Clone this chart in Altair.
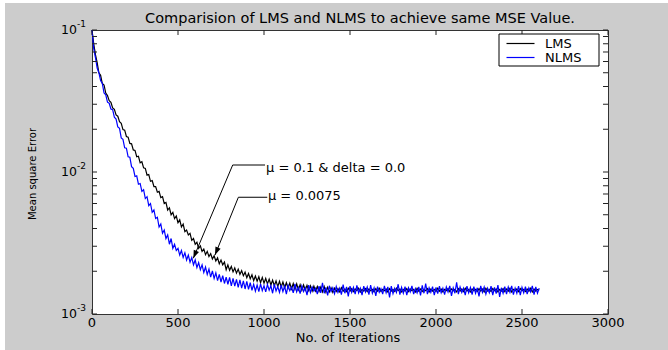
import altair as alt
import pandas as pd

# ---------------- data ----------------
iterations = list(range(0, 2601, 10))

lms_mse = [
    0.100, 0.080, 0.067, 0.059, 0.050, 0.048, 0.042, 0.041, 0.036, 0.0345,
    0.0318, 0.0310, 0.0283, 0.0276, 0.0252, 0.0247, 0.0226, 0.0220, 0.0199, 0.0197,
    0.0178, 0.0176, 0.0159, 0.0158, 0.0143, 0.0142, 0.0128, 0.0129, 0.0116, 0.0118,
    0.0107, 0.0106, 0.0095, 0.0096, 0.0086, 0.0087, 0.0079, 0.0079, 0.0072, 0.0073,
    0.0066, 0.0067, 0.0060, 0.0061, 0.0054, 0.0056, 0.0050, 0.0052, 0.0047, 0.0049,
    0.0044, 0.0046, 0.0041, 0.0043, 0.0038, 0.0039, 0.0036, 0.0037, 0.0033, 0.0034,
    0.0031, 0.0032, 0.0029, 0.00302, 0.00276, 0.00287, 0.00262, 0.00276, 0.00254, 0.00266,
    0.00244, 0.00257, 0.00236, 0.00249, 0.00226, 0.00240, 0.00222, 0.00232, 0.00205, 0.00222,
    0.00203, 0.00216, 0.00198, 0.00211, 0.00194, 0.00207, 0.00190, 0.00202, 0.00186, 0.00197,
    0.00180, 0.00193, 0.00177, 0.00189, 0.00172, 0.00185, 0.00170, 0.00183, 0.00166, 0.00181,
    0.00165, 0.00178, 0.00163, 0.00176, 0.00160, 0.00173, 0.00158, 0.00171, 0.00156, 0.00170,
    0.00155, 0.00168, 0.00153, 0.00166, 0.00152, 0.00165, 0.00150, 0.00164, 0.00149, 0.00163,
    0.00148, 0.00161, 0.00147, 0.00160, 0.00147, 0.00159, 0.00146, 0.00158, 0.00145, 0.00157,
    0.00145, 0.00156, 0.00144, 0.00155, 0.00143, 0.00156, 0.00142, 0.00154, 0.00143, 0.00153,
    0.00142, 0.00152, 0.00144, 0.00151, 0.00143, 0.00153, 0.00145, 0.00150, 0.00144, 0.00152,
    0.00145, 0.00151, 0.00144, 0.00150, 0.00146, 0.00152, 0.00143, 0.00149, 0.00145, 0.00151,
    0.00144, 0.00150, 0.00146, 0.00149, 0.00143, 0.00151, 0.00145, 0.00152, 0.00144, 0.00149,
    0.00146, 0.00150, 0.00143, 0.00151, 0.00145, 0.00149, 0.00144, 0.00152, 0.00146, 0.00150,
    0.00143, 0.00149, 0.00145, 0.00151, 0.00144, 0.00150, 0.00146, 0.00149, 0.00143, 0.00152,
    0.00145, 0.00150, 0.00144, 0.00149, 0.00146, 0.00151, 0.00143, 0.00150, 0.00145, 0.00149,
    0.00144, 0.00152, 0.00145, 0.00150, 0.00143, 0.00149, 0.00146, 0.00151, 0.00144, 0.00150,
    0.00146, 0.00149, 0.00143, 0.00151, 0.00145, 0.00150, 0.00144, 0.00152, 0.00145, 0.00149,
    0.00143, 0.00150, 0.00146, 0.00149, 0.00144, 0.00151, 0.00145, 0.00150, 0.00143, 0.00152,
    0.00145, 0.00149, 0.00144, 0.00151, 0.00146, 0.00150, 0.00143, 0.00149, 0.00145, 0.00151,
    0.00144, 0.00150, 0.00145, 0.00152, 0.00143, 0.00149, 0.00146, 0.00150, 0.00144, 0.00151,
    0.00146, 0.00149, 0.00144, 0.00150, 0.00145, 0.00152, 0.00143, 0.00150, 0.00145, 0.00149,
    0.00147,
]

nlms_mse = [
    0.100, 0.074, 0.064, 0.054, 0.050, 0.044, 0.042, 0.036, 0.035, 0.031,
    0.0305, 0.0278, 0.0275, 0.0243, 0.0236, 0.0208, 0.0203, 0.0174, 0.0170, 0.0148,
    0.0147, 0.0128, 0.0127, 0.0109, 0.0106, 0.0093, 0.0094, 0.0082, 0.0083, 0.0073,
    0.0075, 0.0065, 0.0067, 0.0058, 0.0060, 0.0052, 0.0054, 0.0047, 0.0048, 0.0041,
    0.0043, 0.0037, 0.0039, 0.0034, 0.0036, 0.0031, 0.0034, 0.0029, 0.0031, 0.0028,
    0.0029, 0.0026, 0.0028, 0.0025, 0.0027, 0.0024, 0.0026, 0.00232, 0.00250, 0.00222,
    0.00240, 0.00212, 0.00230, 0.00205, 0.00222, 0.00196, 0.00214, 0.00190, 0.00207, 0.00182,
    0.00201, 0.00178, 0.00195, 0.00172, 0.00190, 0.00168, 0.00186, 0.00164, 0.00182, 0.00162,
    0.00181, 0.00158, 0.00178, 0.00157, 0.00175, 0.00154, 0.00174, 0.00152, 0.00171, 0.00150,
    0.00170, 0.00149, 0.00166, 0.00147, 0.00162, 0.00145, 0.00160, 0.00144, 0.00163, 0.00146,
    0.00158, 0.00143, 0.00161, 0.00147, 0.00158, 0.00140, 0.00162, 0.00145, 0.00156, 0.00142,
    0.00160, 0.00144, 0.00157, 0.00138, 0.00159, 0.00146, 0.00155, 0.00141, 0.00163, 0.00143,
    0.00154, 0.00139, 0.00158, 0.00144, 0.00153, 0.00136, 0.00160, 0.00142, 0.00155, 0.00145,
    0.00152, 0.00138, 0.00157, 0.00141, 0.00166, 0.00140, 0.00154, 0.00135, 0.00158, 0.00144,
    0.00153, 0.00139, 0.00156, 0.00142, 0.00152, 0.00137, 0.00161, 0.00140, 0.00155, 0.00133,
    0.00157, 0.00142, 0.00154, 0.00138, 0.00159, 0.00141, 0.00152, 0.00136, 0.00157, 0.00143,
    0.00155, 0.00137, 0.00160, 0.00140, 0.00153, 0.00134, 0.00156, 0.00142, 0.00151, 0.00138,
    0.00158, 0.00141, 0.00155, 0.00131, 0.00157, 0.00139, 0.00152, 0.00142, 0.00162, 0.00137,
    0.00154, 0.00140, 0.00156, 0.00136, 0.00153, 0.00143, 0.00158, 0.00138, 0.00151, 0.00141,
    0.00155, 0.00135, 0.00159, 0.00140, 0.00164, 0.00138, 0.00153, 0.00142, 0.00156, 0.00136,
    0.00154, 0.00139, 0.00157, 0.00141, 0.00152, 0.00137, 0.00155, 0.00143, 0.00158, 0.00134,
    0.00153, 0.00140, 0.00167, 0.00138, 0.00155, 0.00142, 0.00152, 0.00136, 0.00157, 0.00141,
    0.00154, 0.00137, 0.00156, 0.00140, 0.00153, 0.00133, 0.00158, 0.00142, 0.00155, 0.00138,
    0.00152, 0.00141, 0.00157, 0.00136, 0.00154, 0.00139, 0.00160, 0.00132, 0.00153, 0.00140,
    0.00156, 0.00138, 0.00155, 0.00142, 0.00158, 0.00137, 0.00152, 0.00140, 0.00157, 0.00136,
    0.00154, 0.00141, 0.00156, 0.00138, 0.00153, 0.00143, 0.00158, 0.00137, 0.00155, 0.00140,
    0.00152,
]

series_names = ["LMS", "NLMS"]
series_colors = ["#000000", "#0000ff"]

x_ticks = [0, 500, 1000, 1500, 2000, 2500, 3000]
y_major = [0.001, 0.01, 0.1]
y_major_base = "10"
y_major_exp = ["-3", "-2", "-1"]
y_minor = [0.002, 0.003, 0.004, 0.005, 0.006, 0.007, 0.008, 0.009,
           0.02, 0.03, 0.04, 0.05, 0.06, 0.07, 0.08, 0.09]

title_text = "Comparision of LMS and NLMS to achieve same MSE Value."
x_title = "No. of Iterations"
y_title = "Mean square Error"

ann_labels = ["\u03bc = 0.1 & delta = 0.0", "\u03bc = 0.0075"]
ann_text_x = [1012, 1023]
ann_text_y = [0.0106, 0.0068]
ann_elbow_x = [818, 851]
ann_elbow_y = [0.0112, 0.00664]
ann_end_x = [1006, 1019]
ann_tip_x = [589, 715]
ann_tip_y = [0.00247, 0.0026]

# ---------------- chart ----------------
W, H = 516, 284
FONT = "DejaVu Sans"
xscale = alt.Scale(domain=[0, 3000], nice=False, zero=False)
yscale = alt.Scale(type="log", domain=[0.001, 0.1], nice=False)
one = pd.DataFrame({"k": [0]})

n = len(iterations)
assert len(lms_mse) == n and len(nlms_mse) == n
lines_df = pd.DataFrame({
    "iteration": iterations * 2,
    "mse": lms_mse + nlms_mse,
    "series": [series_names[0]] * n + [series_names[1]] * n,
})

lines = alt.Chart(lines_df).mark_line(strokeWidth=1.2).encode(
    x=alt.X("iteration:Q", scale=xscale, axis=None),
    y=alt.Y("mse:Q", scale=yscale, axis=None),
    color=alt.Color("series:N", scale=alt.Scale(domain=series_names, range=series_colors),
                    legend=None),
)

# white strip at the top and left edges of the figure
strip_top = alt.Chart(one).mark_rect(color="white").encode(
    x=alt.value(-92), x2=alt.value(576), y=alt.value(-30), y2=alt.value(-27))
strip_left = alt.Chart(one).mark_rect(color="white").encode(
    x=alt.value(-92), x2=alt.value(-87), y=alt.value(-30), y2=alt.value(320))

# inward ticks
xt_df = pd.DataFrame({"t": x_ticks})
xt_bottom = alt.Chart(xt_df).mark_rule(color="#222", strokeWidth=1).encode(
    x=alt.X("t:Q", scale=xscale, axis=None), y=alt.value(H), y2=alt.value(H - 5))
xt_top = alt.Chart(xt_df).mark_rule(color="#222", strokeWidth=1).encode(
    x=alt.X("t:Q", scale=xscale, axis=None), y=alt.value(0), y2=alt.value(5))
yt_df = pd.DataFrame({"t": y_major + y_minor})
yt_left = alt.Chart(yt_df).mark_rule(color="#222", strokeWidth=1).encode(
    y=alt.Y("t:Q", scale=yscale, axis=None), x=alt.value(0), x2=alt.value(5))
yt_right = alt.Chart(yt_df).mark_rule(color="#222", strokeWidth=1).encode(
    y=alt.Y("t:Q", scale=yscale, axis=None), x=alt.value(W - 5), x2=alt.value(W))

# x tick labels
xl = alt.Chart(xt_df).mark_text(align="center", baseline="middle", font=FONT,
                                fontSize=13, color="black").encode(
    x=alt.X("t:Q", scale=xscale, axis=None), y=alt.value(H + 9), text="t:Q")

# y tick labels 10^k
yl_df = pd.DataFrame({"v": y_major, "e": y_major_exp, "b": [y_major_base] * 3})
yl_base = alt.Chart(yl_df).mark_text(align="right", baseline="middle", font=FONT,
                                     fontSize=12.5, color="black").encode(
    y=alt.Y("v:Q", scale=yscale, axis=None), x=alt.value(-15), text="b:N")
yl_exp = alt.Chart(yl_df).mark_text(align="left", baseline="middle", font=FONT,
                                    fontSize=9, color="black", dy=-6).encode(
    y=alt.Y("v:Q", scale=yscale, axis=None), x=alt.value(-15), text="e:N")

# titles
title_mark = alt.Chart(one).mark_text(align="center", baseline="middle", font=FONT,
                                      fontSize=14.5, color="black").encode(
    x=alt.value(268), y=alt.value(-11), text=alt.value(title_text))
xtitle_mark = alt.Chart(one).mark_text(align="center", baseline="middle", font=FONT,
                                       fontSize=13, color="black").encode(
    x=alt.value(256), y=alt.value(H + 24), text=alt.value(x_title))
ytitle_mark = alt.Chart(one).mark_text(align="center", baseline="middle", font=FONT,
                                       fontSize=10, color="black", angle=270).encode(
    x=alt.value(-59), y=alt.value(144), text=alt.value(y_title))

# annotations
ann_df = pd.DataFrame({
    "label": ann_labels, "tx": ann_text_x, "ty": ann_text_y,
    "ex": ann_elbow_x, "ey": ann_elbow_y, "hx": ann_end_x,
    "px": ann_tip_x, "py": ann_tip_y,
})
ann_h = alt.Chart(ann_df).mark_rule(color="black", strokeWidth=1).encode(
    x=alt.X("ex:Q", scale=xscale, axis=None), x2="hx:Q",
    y=alt.Y("ey:Q", scale=yscale, axis=None))
ann_d = alt.Chart(ann_df).mark_rule(color="black", strokeWidth=1).encode(
    x=alt.X("ex:Q", scale=xscale, axis=None), x2="px:Q",
    y=alt.Y("ey:Q", scale=yscale, axis=None), y2="py:Q")
ann_head = alt.Chart(ann_df).mark_point(
    shape="M0,0L0.7,2L-0.7,2Z", filled=True, size=64, color="black", opacity=1,
    angle=202.5).encode(
    x=alt.X("px:Q", scale=xscale, axis=None), y=alt.Y("py:Q", scale=yscale, axis=None))
ann_txt = alt.Chart(ann_df).mark_text(align="left", baseline="middle", font=FONT,
                                      fontSize=13, color="black").encode(
    x=alt.X("tx:Q", scale=xscale, axis=None), y=alt.Y("ty:Q", scale=yscale, axis=None),
    text="label:N")

# legend box
leg_layers = [alt.Chart(one).mark_rect(fill="white", stroke="black", strokeWidth=1).encode(
    x=alt.value(407), x2=alt.value(507), y=alt.value(4), y2=alt.value(36))]
for i, (name, col) in enumerate(zip(series_names, series_colors)):
    yy = 13.5 + 14 * i
    leg_layers.append(alt.Chart(one).mark_rule(color=col, strokeWidth=1.2).encode(
        x=alt.value(414.5), x2=alt.value(442.5), y=alt.value(yy)))
    leg_layers.append(alt.Chart(one).mark_text(align="left", baseline="middle", font=FONT,
                                               fontSize=13, color="black").encode(
        x=alt.value(453), y=alt.value(yy), text=alt.value(name)))

chart = alt.layer(
    lines, strip_top, strip_left, xt_bottom, xt_top, yt_left, yt_right,
    xl, yl_base, yl_exp, title_mark, xtitle_mark, ytitle_mark,
    ann_h, ann_d, ann_head, ann_txt, *leg_layers,
).properties(
    width=W, height=H,
    padding={"left": 92, "top": 30, "right": 60, "bottom": 36},
    autosize="none",
    background="#cccccc",
).configure_view(fill="white", stroke="#333333", strokeWidth=1)

chart.save("out.html", embed_options={"renderer": "svg", "actions": False})
